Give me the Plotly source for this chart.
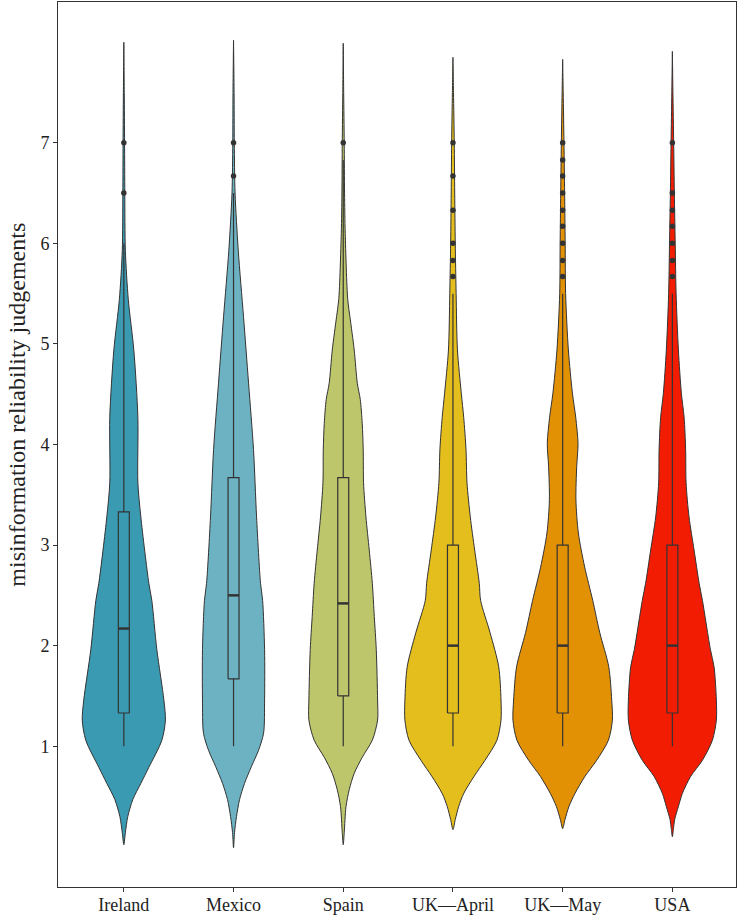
import plotly.graph_objects as go

categories = ["Ireland", "Mexico", "Spain", "UK\u2014April", "UK\u2014May", "USA"]
colors = ["#3A9AB2", "#6CB2C3", "#BEC66B", "#E4BE1D", "#E29105", "#F21C02"]

# violin outline: judgement level and half-width (category units)
ireland_y = [0.02, 0.14, 0.30, 0.47, 0.63, 0.79, 1.06, 1.26, 1.46, 1.96, 2.45, 2.62, 3.28, 3.62, 4.27, 4.94, 5.44, 5.93, 6.5, 7.0, 7.5, 8.0]
ireland_w = [0.0, 0.014, 0.036, 0.082, 0.155, 0.228, 0.347, 0.379, 0.365, 0.301, 0.255, 0.228, 0.155, 0.128, 0.128, 0.091, 0.041, 0.014, 0.009, 0.007, 0.004, 0.0]

mexico_y = [-0.01, 0.14, 0.30, 0.47, 0.63, 0.80, 0.96, 1.13, 1.46, 1.96, 2.45, 2.62, 3.28, 3.95, 4.61, 5.27, 5.93, 6.5, 7.0, 7.5, 8.02]
mexico_w = [0.0, 0.009, 0.027, 0.055, 0.100, 0.164, 0.228, 0.274, 0.283, 0.283, 0.265, 0.246, 0.210, 0.182, 0.137, 0.091, 0.043, 0.014, 0.007, 0.005, 0.0]

spain_y = [0.02, 0.14, 0.40, 0.57, 0.73, 0.89, 1.06, 1.26, 1.46, 1.96, 2.29, 2.62, 2.95, 3.28, 3.62, 3.95, 4.21, 4.45, 4.61, 4.94, 5.27, 5.44, 6.1, 6.5, 7.0, 7.5, 7.99]
spain_w = [0.0, 0.009, 0.025, 0.055, 0.100, 0.173, 0.265, 0.313, 0.313, 0.301, 0.283, 0.265, 0.237, 0.207, 0.185, 0.182, 0.173, 0.155, 0.128, 0.100, 0.061, 0.041, 0.018, 0.012, 0.009, 0.004, 0.0]

ukapr_y = [0.17, 0.27, 0.40, 0.53, 0.70, 0.86, 1.06, 1.26, 1.46, 1.79, 2.13, 2.45, 2.62, 2.95, 3.28, 3.62, 3.95, 4.27, 4.51, 4.94, 5.5, 6.0, 6.5, 7.0, 7.5, 7.85]
ukapr_w = [0.0, 0.021, 0.052, 0.098, 0.192, 0.292, 0.401, 0.438, 0.438, 0.417, 0.338, 0.252, 0.240, 0.198, 0.158, 0.128, 0.119, 0.098, 0.076, 0.041, 0.029, 0.021, 0.016, 0.012, 0.005, 0.0]

ukmay_y = [0.18, 0.27, 0.40, 0.53, 0.70, 0.86, 1.06, 1.26, 1.46, 1.79, 2.13, 2.45, 2.78, 3.12, 3.45, 3.78, 4.01, 4.27, 4.51, 4.94, 5.5, 6.0, 6.5, 7.0, 7.5, 7.83]
ukmay_w = [0.0, 0.021, 0.057, 0.112, 0.203, 0.310, 0.417, 0.453, 0.447, 0.420, 0.338, 0.274, 0.201, 0.143, 0.121, 0.128, 0.140, 0.119, 0.089, 0.052, 0.027, 0.023, 0.018, 0.012, 0.005, 0.0]

usa_y = [0.10, 0.17, 0.27, 0.40, 0.53, 0.70, 0.86, 1.06, 1.26, 1.46, 1.79, 1.96, 2.45, 2.62, 2.95, 3.28, 3.62, 3.95, 4.27, 4.51, 4.94, 5.5, 6.0, 6.5, 7.0, 7.5, 7.91]
usa_w = [0.0, 0.009, 0.021, 0.055, 0.091, 0.167, 0.274, 0.365, 0.401, 0.401, 0.380, 0.347, 0.274, 0.244, 0.198, 0.152, 0.125, 0.121, 0.107, 0.082, 0.055, 0.034, 0.026, 0.018, 0.012, 0.005, 0.0]

violin_y = [ireland_y, mexico_y, spain_y, ukapr_y, ukmay_y, usa_y]
violin_w = [ireland_w, mexico_w, spain_w, ukapr_w, ukmay_w, usa_w]

# box-plot statistics
q1 = [1.33, 1.67, 1.50, 1.33, 1.33, 1.33]
median = [2.17, 2.50, 2.42, 2.00, 2.00, 2.00]
q3 = [3.33, 3.67, 3.67, 3.00, 3.00, 3.00]
lower_whisker = [1.0, 1.0, 1.0, 1.0, 1.0, 1.0]
upper_whisker = [6.0, 6.5, 6.83, 5.5, 5.5, 5.5]

# outliers
outliers = [
    [7.0, 6.5],
    [7.0, 6.67],
    [7.0],
    [7.0, 6.67, 6.33, 6.0, 5.83, 5.67],
    [7.0, 6.83, 6.67, 6.5, 6.33, 6.17, 6.0, 5.83, 5.67],
    [7.0, 6.5, 6.33, 6.17, 6.0, 5.83, 5.67],
]

FONT = "Liberation Serif, Times New Roman, serif"
DARK = "#333333"
BOX_HALF = 0.05

fig = go.Figure()

for i, name in enumerate(categories):
    ys = violin_y[i]
    ws = violin_w[i]
    xs = [i + w for w in ws] + [i - w for w in reversed(ws)]
    yy = list(ys) + list(reversed(ys))
    fig.add_trace(go.Scatter(
        x=xs, y=yy, mode="lines", fill="toself", fillcolor=colors[i],
        line=dict(color=DARK, width=1, shape="spline", smoothing=0.8),
        hoverinfo="skip", showlegend=False,
    ))
    # whiskers
    fig.add_trace(go.Scatter(
        x=[i, i, None, i, i],
        y=[lower_whisker[i], q1[i], None, q3[i], upper_whisker[i]],
        mode="lines", line=dict(color=DARK, width=1.2),
        hoverinfo="skip", showlegend=False,
    ))
    # box
    fig.add_trace(go.Scatter(
        x=[i - BOX_HALF, i + BOX_HALF, i + BOX_HALF, i - BOX_HALF, i - BOX_HALF],
        y=[q1[i], q1[i], q3[i], q3[i], q1[i]],
        mode="lines", line=dict(color=DARK, width=1.2),
        hoverinfo="skip", showlegend=False,
    ))
    # median
    fig.add_trace(go.Scatter(
        x=[i - BOX_HALF, i + BOX_HALF], y=[median[i], median[i]], mode="lines",
        line=dict(color=DARK, width=2.5), hoverinfo="skip", showlegend=False,
    ))
    fig.add_trace(go.Scatter(
        x=[i] * len(outliers[i]), y=outliers[i], mode="markers",
        marker=dict(color=DARK, size=5.5), hoverinfo="skip", showlegend=False,
    ))

fig.update_layout(
    width=738, height=916,
    margin=dict(l=58, r=2, t=2, b=29, autoexpand=False),
    plot_bgcolor="white", paper_bgcolor="white",
    font=dict(family=FONT, size=18, color="#222222"),
    showlegend=False,
    annotations=[dict(
        text="misinformation reliability judgements", textangle=-90,
        xref="paper", yref="paper", x=0, y=0.545, xshift=-41,
        xanchor="center", yanchor="middle", showarrow=False,
        font=dict(family=FONT, size=24, color="#222222"),
    )],
)
fig.update_xaxes(
    range=[-0.60, 5.58], tickmode="array", tickvals=list(range(len(categories))),
    ticktext=categories, ticks="outside", ticklen=4, tickcolor=DARK,
    ticklabelstandoff=-3,
    showline=True, linecolor=DARK, linewidth=1, mirror=True, automargin=False,
    showgrid=False, zeroline=False, tickfont=dict(size=18),
)
fig.update_yaxes(
    range=[-0.40, 8.40], tickmode="array", tickvals=[1, 2, 3, 4, 5, 6, 7],
    ticks="outside", ticklen=4, tickcolor=DARK,
    showline=True, linecolor=DARK, linewidth=1, mirror=True, automargin=False,
    showgrid=False, zeroline=False, tickfont=dict(size=18),
)

fig.write_html(
    "out.html",
    config={"displayModeBar": False},
    post_script="document.body.style.margin='0';document.body.style.overflow='hidden';",
)
